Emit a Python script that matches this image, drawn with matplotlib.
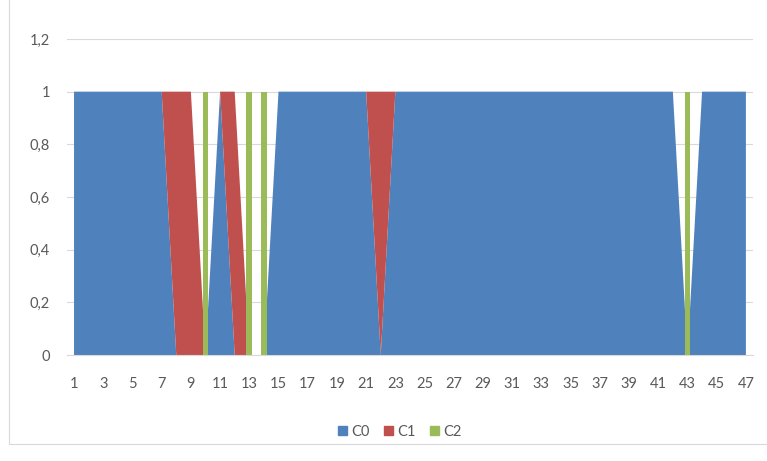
import matplotlib
matplotlib.use("Agg")
import matplotlib.pyplot as plt
from matplotlib.patches import Patch, Rectangle
import numpy as np

plt.rcParams['font.family'] = ['Lato', 'DejaVu Sans']
plt.rcParams['font.size'] = 10.5

# categories 1..47, one-hot cluster membership
categories = list(range(1, 48))
c1_points = [8, 9, 12, 22]
c2_points = [10, 13, 14, 43]

c0 = [0 if (i in c1_points or i in c2_points) else 1 for i in categories]
c1 = [1 if i in c1_points else 0 for i in categories]
c2 = [1 if i in c2_points else 0 for i in categories]

y_ticks = [0, 0.2, 0.4, 0.6, 0.8, 1.0, 1.2]
y_labels = ['0', '0,2', '0,4', '0,6', '0,8', '1', '1,2']
x_ticks = categories[::2]

blue = '#4F81BD'
red = '#C0504D'
green = '#9BBB59'
text_col = '#595959'
grid_col = '#D9D9D9'

fig = plt.figure(figsize=(7.67, 4.61), dpi=100)
ax = fig.add_axes([0.087, 0.2299, 0.895, 0.6855])

ax.stackplot(categories, c0, c1, colors=[blue, red], linewidth=0, zorder=2)
ax.bar(categories, c2, width=0.4, color=green, linewidth=0, zorder=3)

ax.set_xlim(0.5, 47.5)
ax.set_ylim(0, 1.2)
ax.set_yticks(y_ticks)
ax.set_yticklabels(y_labels)
ax.set_xticks(x_ticks)
ax.set_xticklabels([str(x) for x in x_ticks])

ax.grid(axis='y', color=grid_col, linewidth=0.8, zorder=0)
ax.set_axisbelow(True)
for s in ['top', 'right', 'left']:
    ax.spines[s].set_visible(False)
ax.spines['bottom'].set_color(grid_col)
ax.spines['bottom'].set_zorder(4)
ax.tick_params(axis='both', length=0, colors=text_col)
ax.tick_params(axis='y', pad=12)
ax.tick_params(axis='x', pad=16)

handles = [Patch(color=blue, label='C0'), Patch(color=red, label='C1'),
           Patch(color=green, label='C2')]
leg = fig.legend(handles=handles, loc='center', bbox_to_anchor=(400 / 767, 1 - 432 / 461),
                 ncol=3, frameon=False, handlelength=0.6, handleheight=0.6,
                 handletextpad=0.3, columnspacing=1.0)
for t in leg.get_texts():
    t.set_color(text_col)

# light chart border
fig.patches.append(Rectangle((9 / 767, 1 - 444 / 461), 1.0, 1.0, transform=fig.transFigure,
                             fill=False, edgecolor=grid_col, linewidth=0.8))

fig.savefig('out.png', dpi=100)
